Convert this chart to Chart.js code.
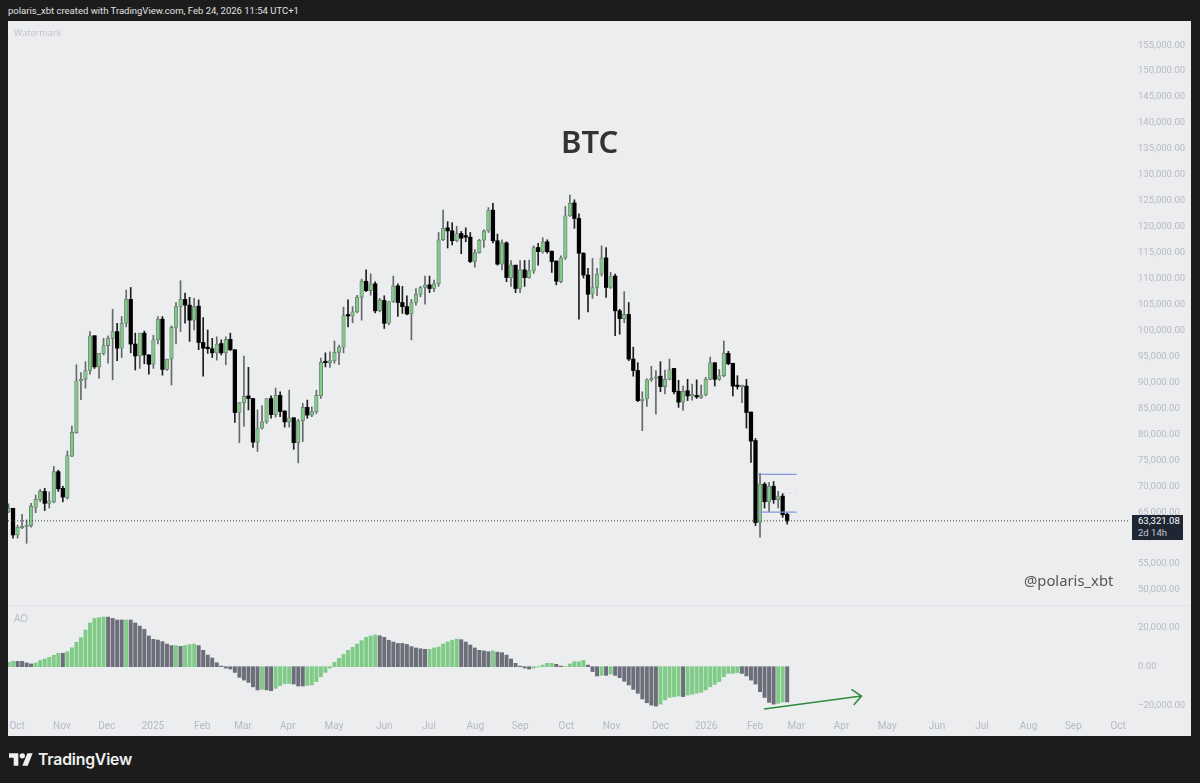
<!DOCTYPE html>
<html><head><meta charset="utf-8">
<script src="https://cdn.jsdelivr.net/npm/chart.js@4"></script>
<style>
html,body{margin:0;padding:0;background:#1c1c1c;width:1200px;height:783px;overflow:hidden;font-family:"Noto Sans",sans-serif}
.abs{position:absolute;white-space:nowrap}
#panel{position:absolute;left:8px;top:21px;width:1183px;height:715px;background:#ecedef}
#sep{position:absolute;left:8px;top:605px;width:1183px;height:1px;background:#e2e3e7}
canvas{position:absolute;left:8px}
</style></head><body>
<div class="abs" style="left:8px;top:3px;font-family:Roboto,sans-serif;font-size:9.5px;line-height:15px;color:#e0e0e0">polaris_xbt created with TradingView.com, Feb 24, 2026 11:54 UTC+1</div>
<div id="panel"></div><div id="sep"></div>
<canvas id="price" width="1183" height="584" style="top:21px;width:1183px;height:584px"></canvas>
<canvas id="ao" width="1183" height="130" style="top:606px;width:1183px;height:130px"></canvas>
<div class="abs" style="left:14px;top:26px;font-size:9px;line-height:13px;color:#c4c6ce">Watermark</div>
<div class="abs" style="left:14px;top:611px;font-size:10px;line-height:14px;color:#b8bac4">AO</div>
<div class="abs" style="left:561px;top:120px;font-size:31px;line-height:42px;font-weight:600;color:#333">BTC</div>
<div class="abs" style="left:1024px;top:570px;font-size:14.8px;line-height:20px;color:#555">@polaris_xbt</div>
<div id="tag" class="abs" style="left:1132px;width:51px;height:25px;background:#1e2633;font-family:Roboto,sans-serif;font-size:9.5px;line-height:12px;color:#fff;padding-left:6px;box-sizing:border-box"><div>63,321.08</div><div style="color:#c4c8d0">2d 14h</div></div>
<svg class="abs" style="left:9px;top:753px" width="24" height="13" viewBox="0 0 36 19"><path fill="#f0f0f0" d="M14 19H7V7H0V0h14v19zM28 19h-8l7.5-19h8L28 19z"/><circle fill="#f0f0f0" cx="20" cy="4" r="4"/></svg>
<div class="abs" style="left:38px;top:749px;font-family:Inter,sans-serif;font-size:15.8px;line-height:21px;font-weight:600;color:#f0f0f0;letter-spacing:-0.2px">TradingView</div>
<script>
const opens=[65100,65750,60600,62000,62200,62400,65900,67400,69000,66700,
67000,72800,69600,67800,75800,80300,90300,90600,92300,99000,
93000,95600,97100,98500,99800,96600,101400,106000,97400,95100,
99500,95300,93500,98200,102200,92500,94500,100600,104600,106000,
104900,102000,104700,97700,96600,96500,95700,97500,95700,98300,
96300,84200,86100,87400,86900,78500,81200,82400,86900,83800,
87500,84500,82400,83200,78400,82600,85200,83700,84300,87400,
93900,93800,94200,95800,96800,103000,102800,103600,106400,109500,
107700,109000,103800,105800,101400,105600,108600,105400,104600,103200,
105400,107000,108300,108800,108100,109000,117500,119800,119200,117300,
118700,118100,118000,113300,115000,117400,119200,123200,117300,112800,
116900,110200,112600,108100,111700,110200,111500,116000,115200,117100,
115300,113400,109400,114000,122100,124600,121600,114900,110700,107000,
108300,110900,114000,108300,110500,103800,102300,103100,94500,92300,
86500,86800,90500,90800,91200,89200,90600,92700,88300,86200,
88400,87400,87300,87100,87600,90600,93800,90600,91300,95600,
93700,89400,89200,89300,84300,78800,63000,70400,67000,70000,
67400,68100,64600];
const closes=[65750,60600,62100,62200,62500,66200,67500,69000,66700,67200,
72800,69500,67900,75900,80400,90300,90600,92300,99000,93000,
95600,97100,98500,99800,96600,101400,106000,97400,95100,99500,
95300,93500,98200,102200,92500,94500,100600,104600,106000,104900,
102000,104600,97700,96600,96500,95700,97400,95700,98300,96300,
84200,86100,87300,86900,78500,81200,82400,86900,83800,87500,
84400,82400,83200,78400,82600,85200,83700,84400,87500,93900,
93800,94200,95800,96800,102900,102800,103600,106400,109500,107700,
109000,103800,105900,101400,105600,108600,105400,104600,103200,105400,
107000,108300,108800,108100,109000,117500,119700,119200,117300,118700,
117800,118000,113300,115000,117400,119200,123200,117300,112800,116900,
110200,112600,108100,111700,110200,111500,116000,115200,117100,115200,
113300,109500,114000,122100,124500,121600,114900,110700,107000,108300,
110900,114000,108300,110400,103800,102300,103100,94500,92300,86500,
86800,90500,90700,91100,89200,90600,92500,88200,86200,88300,
87400,87500,87200,87600,90600,93800,90600,91300,95600,93600,
89300,89200,89500,84200,78700,63000,70400,67000,70000,67400,
68000,64500,63321];
const highs=[66600,65750,62500,64600,63500,66700,68300,69400,69600,68900,
73800,73100,70000,76800,81600,93400,91900,94000,99800,99000,
95600,98500,99000,104100,101400,102700,107800,108300,99500,99500,
99900,95300,99100,102700,102700,94500,100900,105400,109600,107200,
106400,106200,105900,102500,100100,98500,98800,98200,98800,99500,
96300,86100,95100,92900,86900,84700,85500,86900,87400,88900,
88200,84500,88500,83200,82900,86000,86600,85300,88500,94700,
95700,95900,98000,97200,104500,105900,104600,106800,109900,111700,
110900,109400,106200,106700,105600,110500,109000,108500,106700,106000,
108100,108500,110500,110500,109700,118900,123200,121000,120800,120100,
119100,119800,118900,115600,117600,119400,123700,124500,118600,117500,
117100,113500,112600,113500,113500,113600,116300,116800,117900,117500,
115300,113400,114400,123900,126100,125200,122500,115000,112000,113900,
112000,116300,116000,111200,110900,104100,107500,105400,96800,93800,
88200,90700,93100,92300,94000,92400,94500,92700,90400,89300,
90600,89700,90500,89500,91000,94900,93800,92500,98000,96000,
93700,91300,89500,90600,84300,79200,72500,70700,70700,70900,
69000,68600,64900];
const lows=[64900,60000,60000,61800,59000,62100,64900,67000,65300,65800,
66800,69000,67000,67500,75700,80200,86700,88900,91600,92700,
90800,95300,93700,90500,94200,94800,100700,95700,92400,92700,
93600,91600,92700,97400,91400,92300,89500,97400,99800,101400,
97900,100100,96300,91200,95600,94800,94300,95300,93400,96100,
82300,78400,81500,84700,77500,76700,81000,82100,83100,83300,
83400,81400,81400,77100,74500,78600,83100,83400,84000,86900,
93000,92900,93700,93400,95700,100700,101500,103400,102000,107500,
106800,103400,103600,100400,101100,105400,102700,103300,103000,98200,
104900,106500,105100,107300,107500,108500,117300,115900,116500,117100,
114800,117100,113100,112200,114900,116000,118900,116900,112600,111700,
109400,108500,107300,107300,108500,110100,111000,112600,114900,114900,
111200,108800,109200,113700,122000,119700,102200,110100,103600,106200,
106700,110500,106400,108100,99000,99300,101500,94200,91200,86300,
80700,85400,90200,83900,88200,87800,90500,87800,85200,84600,
86500,86600,86900,86900,87400,90500,89300,90400,91100,93400,
87400,88700,86100,81200,74600,62400,60200,65800,65100,66700,
65800,64000,62700];
const aoValues=[2200,2700,2700,2700,1900,1400,1900,3200,3900,4700,
5800,6800,6800,7600,9600,12400,14700,18600,22200,24500,
24900,25200,25200,24500,23700,23700,23700,23700,22200,20600,
19000,15600,13900,13500,12700,11500,10700,10700,10300,10700,
11200,11500,10700,8300,5900,4400,2000,300,-700,-1200,
-2900,-5400,-6800,-8000,-10200,-11800,-11500,-11800,-12200,-11000,
-9600,-8600,-8500,-8800,-9800,-9800,-9500,-9300,-7600,-5100,
-2900,-700,2200,4200,6300,8300,9800,11500,13200,14900,
15600,16100,15700,14900,13400,12500,11800,11800,11300,10200,
9500,9100,8800,8800,9500,10000,11500,12500,13400,14000,
13700,12500,11000,9500,8300,8000,7600,8000,7400,7100,
5900,3900,1700,300,-700,-1200,-700,-200,800,1700,
1700,1200,300,100,1400,2500,2500,3200,800,-2500,
-4700,-4400,-4400,-3700,-4400,-5600,-7400,-9300,-11500,-13500,
-16400,-18300,-19500,-20000,-19000,-16900,-15600,-15200,-14900,-15200,
-14400,-14000,-13500,-13000,-11800,-10200,-9000,-7600,-5100,-3400,
-3400,-3000,-3400,-4700,-6800,-8800,-12700,-15600,-18100,-19000,
-18600,-17900,-17900];
const aoRising=[1,1,0,0,0,0,1,1,1,1,
1,1,0,1,1,1,1,1,1,1,
1,1,0,0,0,0,1,0,0,0,
0,0,0,0,0,0,0,1,0,1,
1,1,0,0,0,0,0,0,0,0,
0,0,0,0,0,0,1,0,0,1,
1,1,1,0,0,0,1,1,1,1,
1,1,1,1,1,1,1,1,1,1,
1,1,0,0,0,0,0,0,0,0,
0,0,0,1,1,1,1,1,1,1,
0,0,0,0,0,0,0,1,0,0,
0,0,0,0,0,0,1,1,1,1,
1,0,0,1,1,1,1,1,0,0,
0,1,0,1,0,0,0,0,0,0,
0,0,0,0,1,1,1,1,1,0,
1,1,1,1,1,1,1,1,1,1,
1,1,0,0,0,0,0,0,0,0,
1,1,0];
const monthLabels=['Oct','Nov','Dec','2025','Feb','Mar','Apr','May','Jun','Jul','Aug','Sep','Oct','Nov','Dec','2026','Feb','Mar','Apr','May','Jun','Jul','Aug','Sep','Oct'];
const monthCandle=[1.9,11.8,21.7,31.9,42.8,51.8,61.7,71.9,83,92.9,103.1,113,123.2,133.2,144,154.1,164.9,174,184,194.1,205.1,215,225.3,235.2,245.1];
const priceTicks=[50000,55000,60000,65000,70000,75000,80000,85000,90000,95000,100000,105000,110000,115000,120000,125000,130000,135000,140000,145000,150000,155000];
const aoTicks=[-20000,0,20000];
const lastPrice=63321.08;
const levelTop=72300, levelMid=68700, levelBottom=65000, levelFrom=165.4, levelTo=174.1, levelMidFrom=171;
const arrowShaft=[[166.9,-21500],[188.4,-14900]];
const arrowHead=[[186.2,-11500],[188.4,-14900],[186.7,-19400]];

const X_MIN=-0.11, X_MAX=247.5;
const idx=opens.map((_,i)=>i);
const up=idx.map(i=>closes[i]>=opens[i]);
const fix=(s,w)=>{s.width=w;s.paddingTop=0;s.paddingBottom=0;};
Chart.defaults.font.family='Roboto, sans-serif';
const fmt=v=>Math.abs(v).toLocaleString('en-US',{minimumFractionDigits:2,maximumFractionDigits:2});
const line=(pts,color,width,dash)=>({type:'line',data:pts.map(p=>({x:p[0],y:p[1]})),borderColor:color,borderWidth:width,borderDash:dash||[],pointRadius:0,fill:false,tension:0,order:1});

const priceChart=new Chart(document.getElementById('price'),{
 data:{datasets:[
  {type:'bar',grouped:false,order:3,barThickness:1,data:idx.map(i=>({x:i,y:[lows[i],highs[i]]})),
   backgroundColor:idx.map(i=>up[i]?'#666969':'#1f1f1f')},
  {type:'bar',grouped:false,order:2,barThickness:3.6,minBarLength:1.5,borderSkipped:false,borderWidth:idx.map(i=>up[i]?0.8:0),
   data:idx.map(i=>({x:i,y:[opens[i],closes[i]]})),
   backgroundColor:idx.map(i=>up[i]?'#80ca88':'#000000'),borderColor:'#6d7a70'},
  line([[levelFrom,levelTop],[levelTo,levelTop]],'#8297dc',1.2),
  line([[levelFrom,levelBottom],[levelTo,levelBottom]],'#8297dc',1.2),
  line([[levelMidFrom,levelMid],[levelTo,levelMid]],'#d5d6da',1,[3,3]),
  line([[X_MIN,lastPrice],[X_MAX+3,lastPrice]],'#444',1,[1,2])
 ]},
 options:{responsive:false,animation:false,devicePixelRatio:1,
  layout:{padding:0},
  plugins:{legend:{display:false},tooltip:{enabled:false},title:{display:false}},
  scales:{
   x:{type:'linear',display:false,min:X_MIN,max:X_MAX,offset:false},
   y:{position:'right',min:47110,max:159650,grid:{display:false,drawTicks:false},border:{display:false},
    afterBuildTicks:s=>{s.ticks=priceTicks.map(v=>({value:v}));},
    afterFit:s=>fix(s,62),
    ticks:{autoSkip:false,crossAlign:'near',padding:9,color:'#b7b9c4',font:{size:9.5},callback:v=>fmt(v)}}
  }}
});
const aoChart=new Chart(document.getElementById('ao'),{
 data:{datasets:[
  {type:'bar',grouped:false,order:2,barThickness:3.3,data:idx.map(i=>({x:i,y:aoValues[i]})),
   backgroundColor:idx.map(i=>aoRising[i]?'#7fcb87':'#6c6e7a')},
  line(arrowShaft,'#2f8a3c',1.6),
  line(arrowHead,'#2f8a3c',1.6)
 ]},
 options:{responsive:false,animation:false,devicePixelRatio:1,
  layout:{padding:0},
  plugins:{legend:{display:false},tooltip:{enabled:false}},
  scales:{
   x:{type:'linear',min:X_MIN,max:X_MAX,offset:false,grid:{display:false,drawTicks:false},border:{display:false},
    afterBuildTicks:s=>{s.ticks=monthCandle.map(v=>({value:v}));},
    afterFit:s=>{s.height=22;s.paddingLeft=0;s.paddingRight=0;},
    ticks:{autoSkip:false,maxRotation:0,minRotation:0,padding:6,color:'#b7b9c4',font:{size:10},callback:(v,i)=>monthLabels[i]}},
   y:{position:'right',min:-24010,max:30800,grid:{display:false,drawTicks:false},border:{display:false},
    afterBuildTicks:s=>{s.ticks=aoTicks.map(v=>({value:v}));},
    afterFit:s=>fix(s,62),
    ticks:{autoSkip:false,crossAlign:'near',padding:9,color:'#b7b9c4',font:{size:9.5},callback:v=>(v<0?'\u2212':'')+fmt(v)}}
  }}
});
document.getElementById('tag').style.top=(21+priceChart.scales.y.getPixelForValue(lastPrice)-6)+'px';
</script>
</body></html>
